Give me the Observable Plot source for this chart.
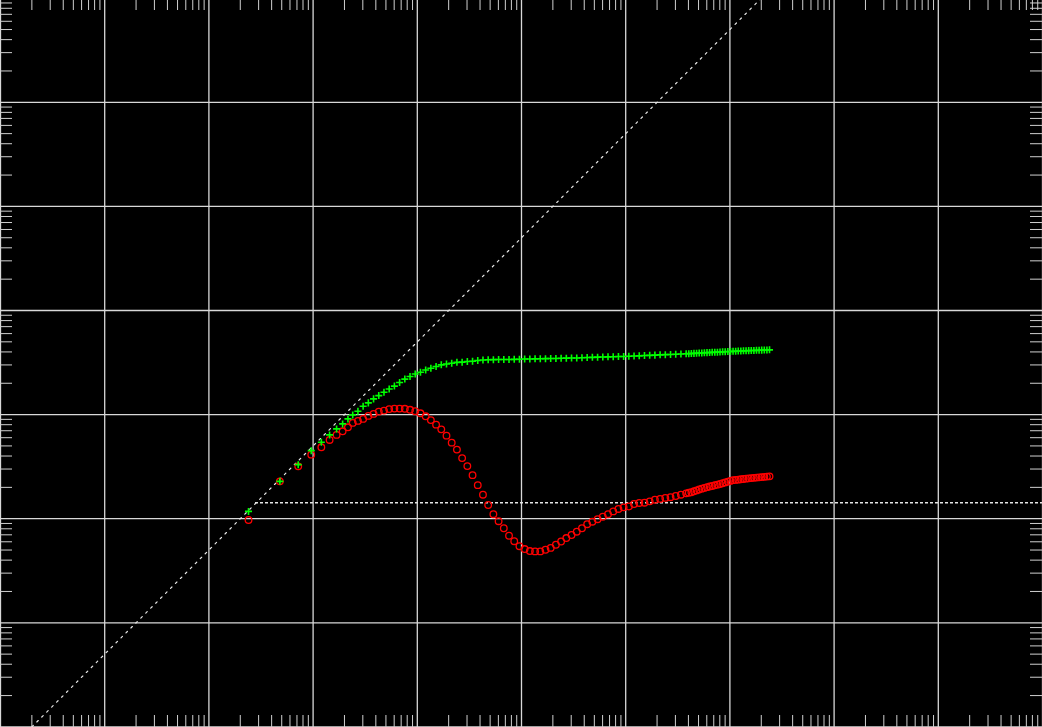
<!DOCTYPE html>
<html>
<head>
<meta charset="utf-8">
<script src="https://cdn.jsdelivr.net/npm/d3@7"></script>
<script src="https://cdn.jsdelivr.net/npm/@observablehq/plot@0.6"></script>
<style>
  html, body { margin: 0; padding: 0; background: #000; overflow: hidden; }
  #chart svg { display: block; }
</style>
</head>
<body>
<div id="chart"></div>
<script>
// ---- data ----
const freq = [240, 480, 720, 960, 1200, 1440, 1680, 1920, 2160,
  2400, 2693, 3021, 3390, 3804, 4268, 4789, 5373, 6029, 6764, 7590, 8515, 9555, 10720, 12030, 13496, 15143, 16991, 19064, 21390,
  24000, 26928, 30214, 33900, 38038, 42679, 47887, 53729, 60285, 67642, 75895, 85154, 95546, 107203, 120286, 134962, 151430, 169908, 190639, 213900,
  240000, 269280, 302140, 339000, 380380, 426790, 478870, 537290, 602850, 676420, 758950, 851540, 955460, 1072030, 1202860, 1349620, 1514300, 1699080, 1906390, 2139000,
  2400000, 2692800, 3021400, 3390000, 3803800, 4029100, 4267900, 4520600, 4788700, 5072400, 5372900, 5691400, 6028500, 6385700, 6764200, 7165000,
  7589500, 8039300, 8515400, 9020200, 9554600, 10120800, 10720300, 11355600, 12028600, 12741100, 13496200, 14295800, 15143000, 16040200,
  16990800, 17997400, 19063900, 20193600, 21390000, 22657400, 24000000];

const green = [117.5, 228.4, 330.6, 450.6, 541.6, 638, 728.7, 813.8, 909.3,
  993, 1076, 1202, 1296, 1416, 1523, 1639, 1759, 1879, 2031, 2194, 2319, 2452, 2551, 2679, 2788, 2894, 3005, 3065, 3113,
  3176, 3190, 3233, 3254, 3313, 3342, 3365, 3372, 3380, 3380, 3387, 3395, 3402, 3417, 3425, 3432, 3440, 3448, 3455, 3463,
  3478, 3486, 3494, 3501, 3517, 3540, 3548, 3564, 3572, 3588, 3596, 3612, 3620, 3636, 3652, 3668, 3692, 3709, 3726, 3750,
  3767, 3784, 3801, 3817, 3843,
  3851, 3860, 3873, 3886, 3899, 3912, 3925, 3938, 3951, 3964, 3972, 3981, 3994, 4008, 4021, 4035,
  4044, 4053, 4066, 4080, 4089, 4098, 4107, 4116, 4125, 4134, 4143, 4153, 4162, 4171, 4180, 4190];

const red = [97.2, 228.4, 318.4, 412.5, 484.9, 571, 638, 690.9, 755,
  832, 870, 909, 972, 1016, 1069, 1093, 1129, 1142, 1142, 1137, 1112, 1078, 1029, 963, 885, 801, 722, 628, 538,
  461, 382, 320, 262, 210, 170, 135.4, 110.5, 94.6, 81.0, 68.6, 60.8, 54.4, 51.1, 48.9, 48.5, 48.5, 50.3, 52.4, 56.2,
  60.4, 65.2, 69.7, 75.0, 81.0, 88.5, 93.6, 98.9, 104.5, 110.5, 117.5, 124.0, 128.5, 131.0, 138.4, 141.6, 142.5, 146.7, 152.3, 155.0,
  158.5, 160.9, 165.3, 170.1, 175.1,
  177.4, 179.8, 183.4, 187.1, 190.7, 194.3, 197.6, 200.9, 203.6, 206.3, 209.3, 212.3, 215.8, 219.4, 223.1, 226.9,
  230.7, 234.5, 235.8, 237.1, 239.0, 240.8, 242.4, 244.1, 245.4, 246.8, 248.1, 249.5, 250.9, 252.3, 253.7, 255.1];

// reference lines
const diagX = [2, 2e7];
const diagY = [1, 1e7];
const levelX = [280, 1e10];
const levelY = 142.5;

// axes
const xDomain = [1, 1e10];
const yDomain = [1, 1e7];

// ---- build ----
const table = freq.map((f, i) => ({f, g: green[i], r: red[i]}));
const diag = diagX.map((x, i) => ({x, y: diagY[i]}));

const isDecade = t => Math.abs(Math.log10(t) - Math.round(Math.log10(t))) < 1e-9;
const xTicks = d3.scaleLog().domain(xDomain).ticks(100);
const yTicks = d3.scaleLog().domain(yDomain).ticks(100);
const majorX = xTicks.filter(isDecade);
const minorX = xTicks.filter(t => !isDecade(t));
const majorY = yTicks.filter(isDecade);
const minorY = yTicks.filter(t => !isDecade(t));

const gridColor = "#d8d8d8";
const tickColor = "#d0d0d0";

const chart = Plot.plot({
  width: 1042,
  height: 727,
  margin: 0,
  style: {background: "#000", overflow: "hidden"},
  x: {type: "log", domain: xDomain, range: [0, 1042], axis: null},
  y: {type: "log", domain: yDomain, range: [726.4, -2.3], axis: null},
  marks: [
    Plot.ruleX(majorX, {stroke: gridColor, strokeWidth: 1.3}),
    Plot.ruleY(majorY, {stroke: gridColor, strokeWidth: 1.3}),
    Plot.ruleX(minorX, {insetTop: 715, stroke: tickColor, strokeWidth: 1}),
    Plot.ruleX(minorX, {insetBottom: 717, stroke: tickColor, strokeWidth: 1}),
    Plot.ruleY(minorY, {insetRight: 1030, stroke: tickColor, strokeWidth: 1}),
    Plot.ruleY(minorY, {insetLeft: 1030, stroke: tickColor, strokeWidth: 1}),
    Plot.line(diag, {x: "x", y: "y", stroke: "#e6e6e6", strokeWidth: 1.2, strokeDasharray: "2,5"}),
    Plot.ruleY([levelY], {x1: levelX[0], x2: levelX[1], stroke: "#e6e6e6", strokeWidth: 1.5, strokeDasharray: "3,2"}),
    Plot.dot(table, {x: "f", y: "r", r: 3.3, stroke: "#ff0000", strokeWidth: 1.3, fill: "none"}),
    Plot.dot(table, {x: "f", y: "g", r: 2.4, symbol: "plus", stroke: "#00ff00", strokeWidth: 1.6})
  ]
});

document.getElementById("chart").appendChild(chart);
</script>
</body>
</html>
